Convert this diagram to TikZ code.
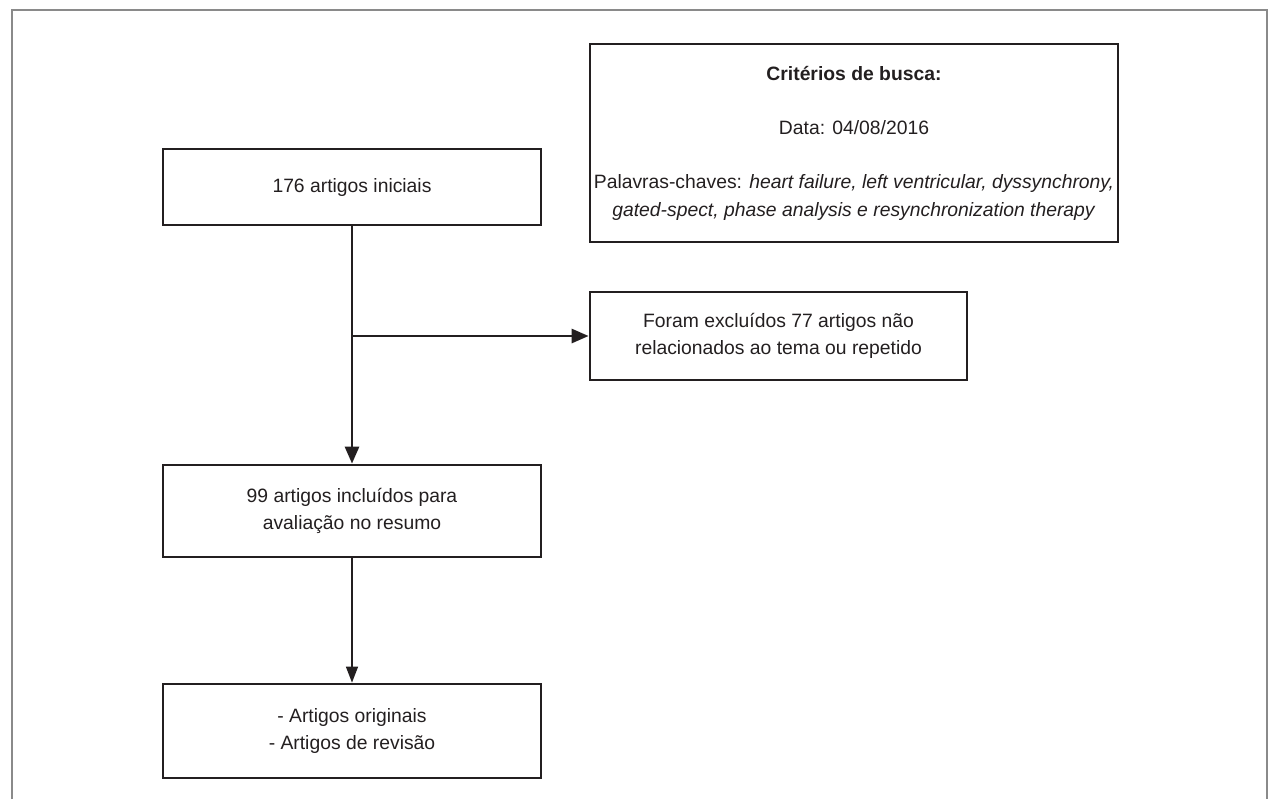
\documentclass[tikz,border=0pt]{standalone}
\usepackage{fontspec}
\setmainfont{Liberation Sans}
\usetikzlibrary{arrows.meta}
\tikzset{>={Triangle[length=3.4mm,width=2.8mm]}}
\definecolor{darkline}{RGB}{35,31,32}
\definecolor{framegray}{RGB}{138,138,138}

\begin{document}
\begin{tikzpicture}[x=0.02cm, y=-0.02cm,
    box/.style={draw=darkline, line width=1.6pt, align=center, inner sep=0pt,
      font=\fontsize{11}{15.5}\selectfont, text=darkline},
    flow/.style={->, draw=darkline, line width=1.6pt},
    thinflow/.style={-{Triangle[length=3.2mm,width=2.4mm]}, draw=darkline, line width=0.8pt}]
  \useasboundingbox (0,0) rectangle (1272,799);
  \draw [framegray, line width=1.2pt] (12,799) -- (12,10) -- (1267,10) -- (1267,799);
  \node [box, minimum width=7.56cm, minimum height=1.52cm] (ini) at (352,187) {176 artigos iniciais};
  \node [box, minimum width=10.56cm, minimum height=3.96cm] (busca) at (854,143)
    {\textbf{Critérios de busca:}\\[15.5pt]
     Data: 04/08/2016\\[15.5pt]
     Palavras-chaves: \textit{heart failure, left ventricular, dyssynchrony,}\\
     \textit{gated-spect, phase analysis e resynchronization therapy}};
  \node [box, minimum width=7.54cm, minimum height=1.76cm] (exc) at (778.5,336)
    {Foram excluídos 77 artigos não\\relacionados ao tema ou repetido};
  \node [box, minimum width=7.56cm, minimum height=1.84cm] (inc) at (352,511)
    {99 artigos incluídos para\\avaliação no resumo};
  \node [box, minimum width=7.56cm, minimum height=1.88cm] (fim) at (352,731)
    {- Artigos originais\\- Artigos de revisão};
  % fluxo
  \coordinate (split) at (ini.south |- exc.west);
  \draw [flow] (ini.south) -- (inc.north);
  \draw [flow] (split) -- (exc.west);
  \draw [thinflow] (inc.south) -- (fim.north);
\end{tikzpicture}
\end{document}
